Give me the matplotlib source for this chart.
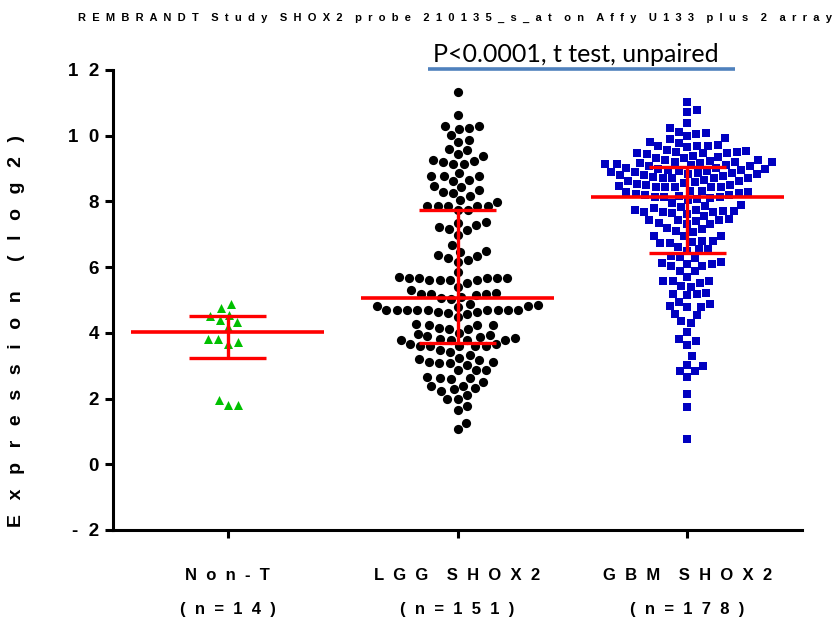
import numpy as np
import matplotlib
matplotlib.use("Agg")
import matplotlib.pyplot as plt

plt.rcParams['font.family'] = ['Liberation Sans', 'DejaVu Sans']

groups = ["Non-T", "LGG SHOX2", "GBM SHOX2"]
counts = [14, 151, 178]

non_t = [4.88, 4.76, 4.55, 4.40, 4.50, 4.33, 4.19, 3.82, 3.80, 3.72, 3.67,
         1.97, 1.79, 1.79]

lgg = [11.32, 10.63, 10.30, 10.22, 10.20, 10.30, 10.03, 9.80, 9.88, 9.57,
       9.61, 9.45, 9.39, 9.27, 9.21, 9.13, 9.15, 9.23, 8.87, 8.76, 8.76, 8.78,
       8.62, 8.64, 8.44, 8.48, 8.30, 8.34, 8.26, 8.16, 8.05,
       7.87, 7.87, 7.87, 7.87, 7.87, 7.75, 7.75, 7.97,
       7.36, 7.33, 7.29, 7.15, 7.13, 7.23, 6.99, 6.66, 6.50, 6.38, 6.35, 6.47,
       6.27, 6.17, 6.22, 5.85,
       5.67, 5.67, 5.67, 5.60, 5.60, 5.53, 5.60, 5.60, 5.67, 5.67, 5.70,
       5.39, 5.21, 5.19, 5.17, 5.19, 5.31, 5.14, 5.06, 5.04, 5.09,
       4.88, 4.83, 4.83, 4.80, 4.86,
       4.70, 4.70, 4.70, 4.70, 4.70, 4.70, 4.58, 4.48, 4.60, 4.63, 4.63,
       4.70, 4.70, 4.70,
       4.28, 4.25, 4.15, 4.11, 4.11, 4.25, 4.25,
       3.97, 3.89, 3.84, 3.79, 3.79, 3.79, 3.79, 3.82, 3.87, 3.95, 3.99,
       3.67, 3.59, 3.59, 3.59, 3.41, 3.49, 3.59, 3.59, 3.65, 3.33,
       3.23, 3.18, 3.10, 3.08, 3.03, 3.08, 3.11, 3.21,
       2.88, 2.88, 2.88, 2.67, 2.64, 2.59, 2.64, 2.49, 2.39, 2.29, 2.32, 2.38,
       2.24, 2.10, 2.00, 2.00, 1.76, 1.64, 1.26, 1.08]

gbm = [11.04, 10.77, 10.73, 10.40, 10.24, 10.07, 10.05, 10.11, 9.98, 9.91,
       9.78, 9.70, 9.70, 9.70, 9.72, 9.82, 9.92, 9.65, 9.54, 9.49, 9.46, 9.43,
       9.39, 9.46, 9.47, 9.51, 9.57,
       9.36, 9.31, 9.27, 9.23, 9.19, 9.16, 9.14, 9.11, 9.09, 9.09, 9.11, 9.14,
       9.16, 9.19, 9.20, 9.27, 9.33,
       9.03, 9.00, 8.97, 8.94, 8.91, 8.88, 8.84, 8.80, 8.76, 8.72, 8.72, 8.75,
       8.79, 8.83, 8.87, 8.90, 8.93, 8.96, 8.99, 9.02,
       8.71, 8.63, 8.58, 8.51, 8.51, 8.45, 8.43, 8.43, 8.43, 8.45, 8.46, 8.53,
       8.56, 8.63, 8.66, 8.71,
       8.33, 8.28, 8.25, 8.21, 8.16, 8.13, 8.08, 8.05, 8.15, 8.15, 8.21, 8.23,
       8.28, 8.33, 8.10,
       7.90, 7.84, 7.74, 7.72, 7.74, 7.80, 7.87, 7.95, 7.70, 7.67, 7.64, 7.57,
       7.62, 7.67, 7.67,
       7.33, 7.30, 7.42, 7.42, 7.40, 7.42, 7.47, 7.32, 7.15, 7.06, 7.11, 7.19,
       6.95, 6.95, 6.95, 6.81, 6.73, 6.73, 6.76, 6.81, 6.60, 6.54, 6.50, 6.55,
       6.30, 6.17, 6.10, 6.05, 6.02, 6.10, 6.12, 6.27, 6.33,
       5.87, 5.88, 5.69, 5.57, 5.51, 5.57, 5.41, 5.57, 5.44,
       5.17, 5.14, 5.21, 5.17,
       4.80, 4.88, 4.78, 4.95, 4.82,
       4.58, 4.36, 4.53, 4.31,
       4.04, 3.74, 3.64, 3.80, 3.29,
       2.98, 3.03, 2.83, 2.65, 2.83,
       2.15, 1.73, 0.78]

# median line with interquartile bars
centers = [4.03, 5.05, 8.15]
lows = [3.24, 3.69, 6.43]
highs = [4.50, 7.75, 9.06]

yticks = [12, 10, 8, 6, 4, 2, 0, -2]


def spaced(text, gap="  "):
    return (gap * 2).join(gap.join(w) for w in text.split(" "))


def swarm(values, d, xs, ys):
    # greedy beeswarm in pixel space, returns x offsets in data units
    vals = np.asarray(values, dtype=float)
    order = np.argsort(vals)
    placed = []
    offs = np.zeros(len(vals))
    for i in order:
        y = vals[i] * ys
        cands = [0.0]
        for px, py in placed:
            dy = y - py
            if abs(dy) < d:
                dx = np.sqrt(d * d - dy * dy)
                cands += [px + dx, px - dx]
        cands.sort(key=abs)
        for c in cands:
            if all((c - px) ** 2 + (y - py) ** 2 >= d * d - 1e-6 for px, py in placed):
                break
        placed.append((c, y))
        offs[i] = c / xs
    return offs


fig = plt.figure(figsize=(8.39, 6.24), dpi=100)
ax = fig.add_axes([113 / 839, 94 / 624, 689 / 839, 460 / 624])
ax.set_xlim(-0.5, 2.5)
ax.set_ylim(-2, 12)

xs = 689 / 3.0
ys = 460 / 14.0

series = [non_t, lgg, gbm]
markers = ["^", "o", "s"]
colors = ["#00c000", "black", "#0000c0"]
sizes = [42, 44, 36]
spacing = [10.5, 10.3, 9.6]

for i, vals in enumerate(series):
    offs = swarm(vals, spacing[i], xs, ys)
    ax.scatter(i + offs, vals, marker=markers[i], s=sizes[i], color=colors[i],
               linewidths=0, zorder=2)
    ax.hlines(centers[i], i - 0.42, i + 0.42, color="red", lw=2.6, zorder=3)
    ax.hlines([lows[i], highs[i]], i - 0.167, i + 0.167, color="red", lw=2.4, zorder=3)
    ax.vlines(i, lows[i], highs[i], color="red", lw=2.4, zorder=3)

for s in ["top", "right"]:
    ax.spines[s].set_visible(False)
for s in ["left", "bottom"]:
    ax.spines[s].set_linewidth(2.2)

ax.set_yticks(yticks)
ax.set_yticklabels([spaced(str(t)) for t in yticks], fontsize=13.5, fontweight="bold")
ax.tick_params(axis="y", length=6, width=2.2, pad=4)
ax.set_xticks(range(3))
ax.set_xticklabels([spaced(g) + "\n" + spaced("(n=%d)" % n) for g, n in zip(groups, counts)],
                   fontsize=12, fontweight="bold", linespacing=2.6)
ax.tick_params(axis="x", length=6, width=2.2, pad=21)

fig.text(17 / 839, 1 - 331 / 624, spaced("Expression (log2)", "  \u2009"), rotation=90,
         ha="center", va="center", fontsize=14, fontweight="bold")

fig.text(455 / 839, 1 - 18 / 624,
         spaced("REMBRANDT Study SHOX2 probe 210135_s_at on Affy U133 plus 2 array"),
         ha="center", va="center", fontsize=8, fontweight="bold")

fig.text(576 / 839, 1 - 62 / 624, "P<0.0001, t test, unpaired", family="Lato",
         ha="center", va="baseline", fontsize=18)
ax.plot([0.87, 2.21], [12.03, 12.03], color="#4f81bd", lw=2.6, clip_on=False,
        solid_capstyle="butt")

fig.savefig("out.png", dpi=100)
